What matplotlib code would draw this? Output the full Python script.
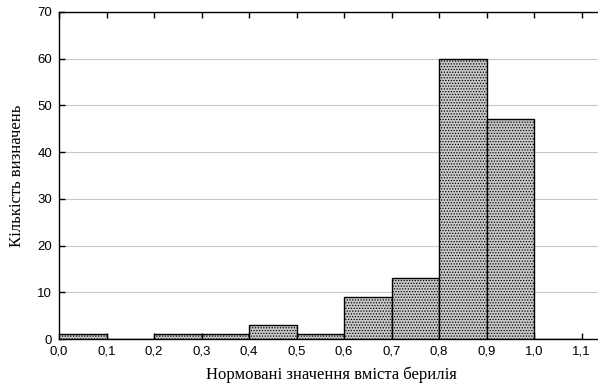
import matplotlib
matplotlib.use('Agg')
import matplotlib.pyplot as plt

# histogram bins (lower edges) and counts
bin_left = [0.0, 0.1, 0.2, 0.3, 0.4, 0.5, 0.6, 0.7, 0.8, 0.9, 1.0]
counts = [1, 0, 1, 1, 3, 1, 9, 13, 60, 47, 0]
xticks = [0.0, 0.1, 0.2, 0.3, 0.4, 0.5, 0.6, 0.7, 0.8, 0.9, 1.0, 1.1]
yticks = [0, 10, 20, 30, 40, 50, 60, 70]

plt.rcParams['hatch.color'] = '#999999'
plt.rcParams['hatch.linewidth'] = 0.6

fig = plt.figure(figsize=(5.98, 3.85), dpi=100)
ax = fig.add_axes([59/598, 1 - 339/385, 1 - 59/598 + 0.01, (339 - 12)/385])

ax.bar(bin_left, counts, width=0.1, align='edge', facecolor='#c9c9c9',
       edgecolor='black', linewidth=1.0, hatch='......', zorder=3)

ax.set_xlim(0, 1.147)
ax.set_ylim(0, 70)
ax.set_xticks(xticks)
ax.set_xticklabels([f'{v:.1f}'.replace('.', ',') for v in xticks],
                   family='Liberation Sans', fontsize=9.5)
ax.set_yticks(yticks)
ax.set_yticklabels([str(v) for v in yticks], family='Liberation Sans', fontsize=9.5)
ax.tick_params(direction='in', length=4, width=1, top=True, right=False, pad=5)
ax.yaxis.grid(True, color='#c8c8c8', linewidth=0.8, zorder=0)
ax.set_axisbelow(True)
for s in ['left', 'bottom', 'top']:
    ax.spines[s].set_linewidth(1.0)
ax.spines['right'].set_visible(False)

ax.set_xlabel('Нормовані значення вміста берилія', family='Liberation Serif',
              fontsize=12, labelpad=6)
ax.set_ylabel('Кількість визначень', family='Liberation Serif', fontsize=12,
              labelpad=9)

fig.savefig('out.png', dpi=100)
